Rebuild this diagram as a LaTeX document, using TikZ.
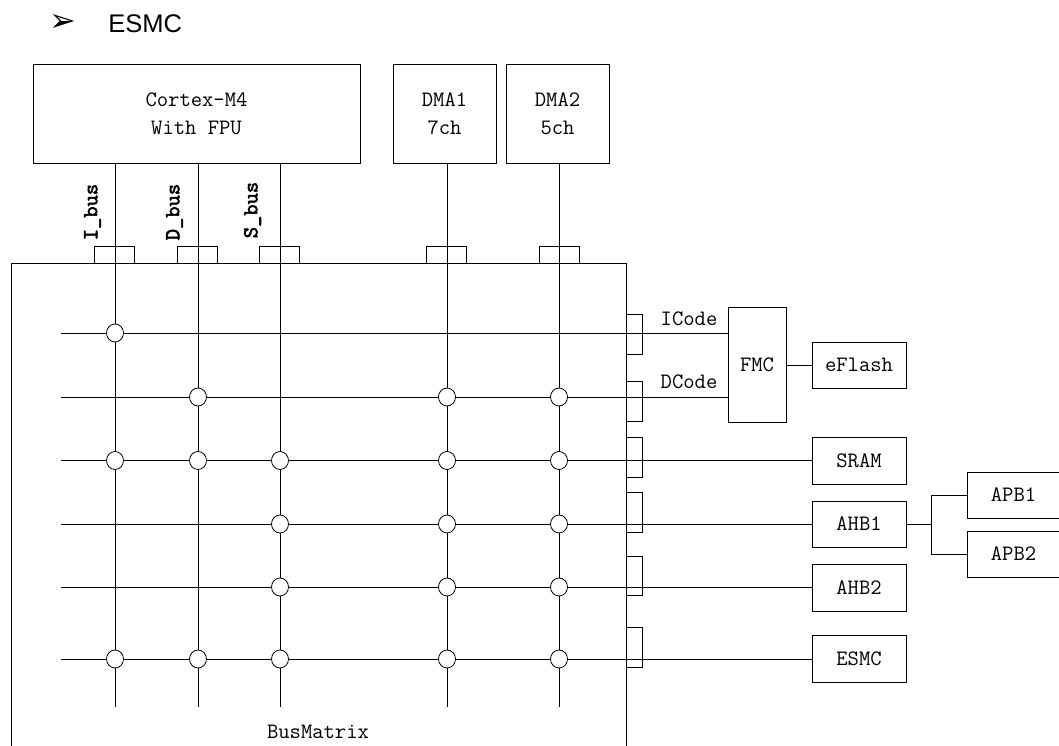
\documentclass[tikz,border=0pt]{standalone}
\usepackage{fontspec}
\usetikzlibrary{shapes.geometric}
\newfontfamily\headfont{Liberation Sans}
\newfontfamily\symfont{DejaVu Sans}
\newfontfamily\busfont[FakeBold=2.5]{lmmono10-regular.otf}
\begin{document}
\begin{tikzpicture}[x=1pt,y=-1pt,line width=0.9pt,
  box/.style={draw,rectangle,inner sep=0pt,align=center,
    font={\ttfamily\fontsize{22}{28}\selectfont}},
  lab/.style={inner sep=0pt,font={\ttfamily\fontsize{22}{28}\selectfont}},
  buslab/.style={inner sep=0pt,rotate=90,font={\busfont\fontsize{21.5}{22}\selectfont}},
  port/.style={draw,line width=0.8pt},
  tap/.style={draw,fill=white,ellipse,minimum width=17pt,minimum height=18pt,inner sep=0pt,line width=0.8pt}]
\useasboundingbox (0,0) rectangle (1059,745);

% header
\node[inner sep=0pt,font={\symfont\fontsize{32}{34}\selectfont}] (arrowsym) at (63,23) {➢};
\node[inner sep=0pt,anchor=west,font={\headfont\fontsize{25.5}{28}\selectfont}] (title) at (108,23.5) {ESMC};

% masters
\node[box,minimum width=327pt,minimum height=99pt] (cortex) at (196.5,113.5) {Cortex-M4\\With FPU};
\node[box,minimum width=103pt,minimum height=99pt] (dma1) at (444.5,113.5) {DMA1\\7ch};
\node[box,minimum width=103pt,minimum height=99pt] (dma2) at (557.5,113.5) {DMA2\\5ch};

% slaves
\node[box,minimum width=58pt,minimum height=115pt] (fmc) at (757,364.5) {FMC};
\node[box,minimum width=94pt,minimum height=46pt] (eflash) at (859,365) {eFlash};
\node[box,minimum width=94pt,minimum height=47pt] (sram) at (859,460.5) {SRAM};
\node[box,minimum width=94pt,minimum height=46pt] (ahb1) at (859,524) {AHB1};
\node[box,minimum width=94pt,minimum height=47pt] (ahb2) at (859,587.5) {AHB2};
\node[box,minimum width=94pt,minimum height=47pt] (esmc) at (859,658.5) {ESMC};
\node[box,minimum width=93pt,minimum height=46pt] (apb1) at (1013.5,495) {APB1};
\node[box,minimum width=93pt,minimum height=46pt] (apb2) at (1013.5,554) {APB2};

% bus matrix frame
\coordinate (bmtl) at (11,263);
\coordinate (bmtr) at (626,263);
\draw (11,760) -- (bmtl) -- (bmtr) -- (626,760);
\node[lab] (bmlabel) at (318,732) {BusMatrix};

% column bottoms
\coordinate (cI) at (115,707);
\coordinate (cD) at (198,707);
\coordinate (cS) at (280,707);
\coordinate (c1) at (447,707);
\coordinate (c2) at (559,707);

% row starts
\coordinate (r1) at (61,333);
\coordinate (r2) at (61,397);
\coordinate (r3) at (61,460.5);
\coordinate (r4) at (61,524);
\coordinate (r5) at (61,587);
\coordinate (r6) at (61,659);

% top ports
\foreach \a/\b in {94/134,177/217,259/299,426/466,539/579}
  \draw[port] (\a,246) rectangle (\b,263);
% right ports
\foreach \a/\b in {314/354,381/421,437/477,492/532,556/595,627/667}
  \draw[port] (626,\a) rectangle (642,\b);

% vertical buses
\draw (cI |- cortex.south) -- (cI);
\draw (cD |- cortex.south) -- (cD);
\draw (cS |- cortex.south) -- (cS);
\draw (c1 |- dma1.south) -- (c1);
\draw (c2 |- dma2.south) -- (c2);

% horizontal rows
\draw (r1) -- (r1 -| fmc.west);
\draw (r2) -- (r2 -| fmc.west);
\draw (r3) -- (r3 -| sram.west);
\draw (r4) -- (r4 -| ahb1.west);
\draw (r5) -- (r5 -| ahb2.west);
\draw (r6) -- (r6 -| esmc.west);

% other connectors
\draw (fmc.east |- eflash.west) -- (eflash.west);
\coordinate (j) at (931,524);
\draw (ahb1.east) -- (j);
\draw (apb1.west) -- (apb1.west -| j) -- (apb2.west -| j) -- (apb2.west);

% labels
\node[lab] (icode) at (689,319) {ICode};
\node[lab] (dcode) at (689,382) {DCode};
\node[buslab] (ibus) at (92.5,212) {I\_bus};
\node[buslab] (dbus) at (174.5,212) {D\_bus};
\node[buslab] (sbus) at (252.5,210) {S\_bus};

% crossing taps
\foreach \c/\r in {cI/r1,
  cD/r2,c1/r2,c2/r2,
  cI/r3,cD/r3,cS/r3,c1/r3,c2/r3,
  cS/r4,c1/r4,c2/r4,
  cS/r5,c1/r5,c2/r5,
  cI/r6,cD/r6,cS/r6,c1/r6,c2/r6}
  \node[tap] at (\c |- \r) {};
\end{tikzpicture}
\end{document}
